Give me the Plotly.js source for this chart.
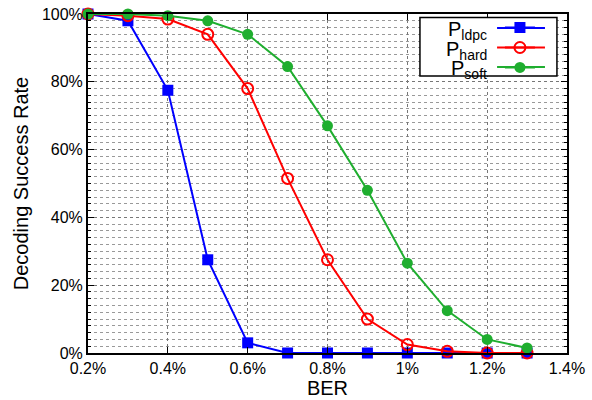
<!DOCTYPE html>
<html>
<head>
<meta charset="utf-8">
<script src="https://cdn.plot.ly/plotly-3.0.1.min.js"></script>
<style>html,body{margin:0;padding:0;background:#fff;}#chart{width:592px;height:400px;}</style>
</head>
<body>
<div id="chart"></div>
<script>
const ber = [0.2, 0.3, 0.4, 0.5, 0.6, 0.7, 0.8, 0.9, 1.0, 1.1, 1.2, 1.3];
const pLdpc = [100, 98, 77.5, 27.5, 3, 0, 0, 0, 0, 0, 0, 0];
const pHard = [100, 99.5, 98.5, 94, 78, 51.5, 27.5, 10, 2.5, 0.5, 0, 0];
const pSoft = [100, 100, 99.5, 98, 94, 84.5, 67, 48, 26.5, 12.5, 4, 1.5];
const seriesNames = ['P<sub>ldpc</sub>', 'P<sub>hard</sub>', 'P<sub>soft</sub>'];
const xTicks = [0.2, 0.4, 0.6, 0.8, 1.0, 1.2, 1.4];
const xTickText = ['0.2%', '0.4%', '0.6%', '0.8%', '1%', '1.2%', '1.4%'];
const yTicks = [0, 20, 40, 60, 80, 100];
const yTickText = ['0%', '20%', '40%', '60%', '80%', '100%'];

const FONT = 'Liberation Sans, Arial, Helvetica, sans-serif';
const colors = ['#0000ff', '#ff0000', '#1fae2f'];

const traces = [
  {x: ber, y: pLdpc, name: ' ', mode: 'lines+markers', line: {color: colors[0], width: 2},
   marker: {symbol: 'square', size: 11, color: colors[0]}, cliponaxis: false},
  {x: ber, y: pHard, name: ' ', mode: 'lines+markers', line: {color: colors[1], width: 2},
   marker: {symbol: 'circle-open', size: 11, color: colors[1], line: {width: 2, color: colors[1]}}, cliponaxis: false},
  {x: ber, y: pSoft, name: ' ', mode: 'lines+markers', line: {color: colors[2], width: 2},
   marker: {symbol: 'circle', size: 11, color: colors[2]}, cliponaxis: false}
];

const rowY = [0.959, 0.901, 0.844];
const annotations = seriesNames.map((t, i) => ({
  xref: 'paper', yref: 'paper', x: 0.838, y: rowY[i] - 0.009,
  xanchor: 'right', yanchor: 'middle', text: t, showarrow: false,
  font: {family: FONT, size: 20, color: '#000'}
}));

const shapes = [{type: 'rect', xref: 'paper', yref: 'paper', x0: 0.693, x1: 0.979, y0: 0.817, y1: 0.990,
                 line: {color: '#000', width: 1.5}, fillcolor: '#fff', layer: 'above'}];
rowY.forEach((y, i) => shapes.push({type: 'line', xref: 'paper', yref: 'paper', x0: 0.854, x1: 0.954,
  y0: y, y1: y, line: {color: colors[i], width: 2}, layer: 'above'}));

const layout = {
  width: 592, height: 400,
  margin: {l: 88, r: 25, t: 14, b: 47},
  paper_bgcolor: '#fff', plot_bgcolor: '#fff',
  font: {family: FONT, size: 16, color: '#000'},
  showlegend: true,
  legend: {x: 0.86, y: 1.004, xanchor: 'left', yanchor: 'top', bgcolor: 'rgba(0,0,0,0)',
           borderwidth: 0, font: {family: FONT, size: 13}, itemwidth: 30, tracegroupgap: 0},
  xaxis: {
    range: [0.2, 1.4], tickvals: xTicks, ticktext: xTickText,
    ticks: 'inside', ticklen: 6, tickcolor: '#000', tickwidth: 1,
    showline: true, linecolor: '#000', linewidth: 2, mirror: 'ticks',
    showgrid: true, gridcolor: '#777', griddash: 'dot', gridwidth: 1,
    zeroline: false, tickfont: {family: FONT, size: 16},
    title: {text: 'BER', font: {family: FONT, size: 20}, standoff: 2}
  },
  yaxis: {
    range: [0, 100], tickvals: yTicks, ticktext: yTickText,
    ticks: 'inside', ticklen: 6, tickcolor: '#000', tickwidth: 1,
    showline: true, linecolor: '#000', linewidth: 2, mirror: 'ticks',
    showgrid: true, gridcolor: '#777', griddash: 'dot', gridwidth: 1,
    zeroline: false, tickfont: {family: FONT, size: 16},
    minor: {dtick: 2, showgrid: true, gridcolor: '#999', griddash: 'dot', gridwidth: 1,
            ticks: 'inside', ticklen: 3, tickcolor: '#000'},
    title: {text: 'Decoding Success Rate', font: {family: FONT, size: 20}, standoff: 8}
  },
  shapes: shapes,
  annotations: annotations
};

Plotly.newPlot('chart', traces, layout, {displayModeBar: false, staticPlot: true});
</script>
</body>
</html>
